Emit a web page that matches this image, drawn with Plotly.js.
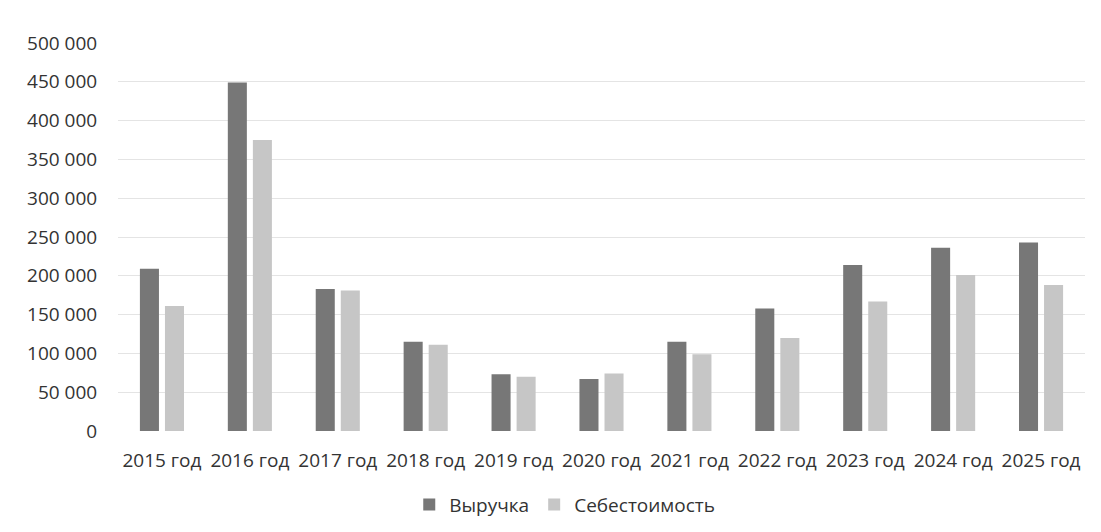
<!DOCTYPE html>
<html>
<head>
<meta charset="utf-8">
<script src="https://cdn.plot.ly/plotly-3.0.1.min.js"></script>
<style>html,body{margin:0;padding:0;background:#fff;}#chart{width:1101px;height:532px;}</style>
</head>
<body>
<div id="chart"></div>
<script>
const categories = ["2015 год","2016 год","2017 год","2018 год","2019 год","2020 год","2021 год","2022 год","2023 год","2024 год","2025 год"];
const revenue = [209000, 449000, 183000, 115000, 73000, 67000, 115000, 158000, 214000, 236000, 243000];
const cost = [161000, 375000, 181000, 111000, 70000, 74000, 99000, 120000, 167000, 201000, 188000];
const yTicks = [0,50000,100000,150000,200000,250000,300000,350000,400000,450000,500000];
const yTickLabels = ["0","50 000","100 000","150 000","200 000","250 000","300 000","350 000","400 000","450 000","500 000"];

const font = {family: "Open Sans, sans-serif", size: 19, color: "#333333"};

const data = [
  {type: "bar", name: "Выручка", x: categories, y: revenue, marker: {color: "#777777"}},
  {type: "bar", name: "Себестоимость", x: categories, y: cost, marker: {color: "#c6c6c6"}}
];

const layout = {
  width: 1101, height: 532,
  margin: {l: 118, r: 16, t: 43, b: 101, autoexpand: false},
  paper_bgcolor: "#fff", plot_bgcolor: "#fff",
  font: font,
  barmode: "group", bargap: 0.43, bargroupgap: 0.24,
  showlegend: true,
  legend: {orientation: "h", x: 0.462, xanchor: "center", y: -0.19, yanchor: "middle", font: font, itemwidth: 30},
  xaxis: {tickfont: font, showgrid: false, zeroline: false, showline: false,
          ticks: "outside", ticklen: 12, tickcolor: "rgba(0,0,0,0)", fixedrange: true},
  yaxis: {range: [0, 500000], tickvals: yTicks, ticktext: yTickLabels, tickfont: font,
          gridcolor: "#e4e4e4", gridwidth: 1, zeroline: false, showline: false,
          ticks: "outside", ticklen: 16, tickcolor: "rgba(0,0,0,0)", fixedrange: true}
};

Plotly.newPlot("chart", data, layout, {displayModeBar: false, staticPlot: true});
</script>
</body>
</html>
